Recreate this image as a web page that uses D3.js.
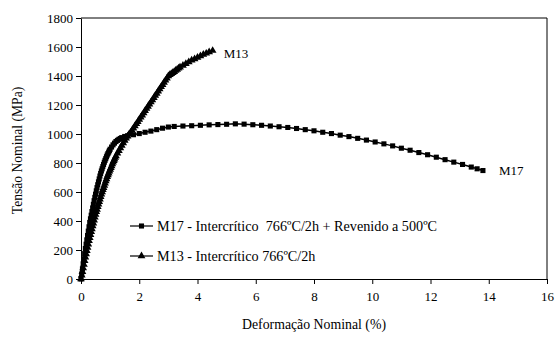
<!DOCTYPE html>
<html>
<head>
<meta charset="utf-8">
<script src="https://cdn.jsdelivr.net/npm/d3@7"></script>
<style>
  body { margin: 0; background: #fff; }
</style>
</head>
<body>
<div id="chart"></div>
<script>
// Data
var m17Strain = [0, 0.025, 0.05, 0.075, 0.1, 0.125, 0.15, 0.175, 0.2, 0.225, 0.25, 0.275, 0.3, 0.325, 0.35, 0.375, 0.4, 0.425, 0.45, 0.475,
  0.5, 0.525, 0.55, 0.575, 0.6, 0.625, 0.65, 0.675, 0.7, 0.725, 0.75, 0.775, 0.8, 0.825, 0.85, 0.875, 0.9, 0.925, 0.95, 0.975,
  1.0, 1.05, 1.1, 1.15, 1.2, 1.25, 1.3, 1.35, 1.4, 1.5, 1.6, 1.8, 2.0, 2.2, 2.4, 2.6, 2.8, 3.0, 3.2, 3.5, 3.8, 4.1, 4.4, 4.7,
  5.0, 5.3, 5.6, 5.9, 6.2, 6.5, 6.8, 7.1, 7.4, 7.7, 8.0, 8.3, 8.6, 8.9, 9.2, 9.5, 9.8, 10.1, 10.4, 10.7, 11.0, 11.3, 11.6,
  11.9, 12.2, 12.5, 12.8, 13.1, 13.4, 13.6, 13.8];
var m17Stress = [0, 35, 70, 105, 140, 175, 210, 240, 270, 300, 330, 360, 390, 415, 440, 465, 490, 515, 540, 563,
  585, 608, 630, 650, 670, 690, 710, 728, 745, 760, 775, 790, 805, 818, 830, 843, 855, 865, 875, 885,
  895, 910, 925, 937, 948, 956, 963, 969, 975, 983, 988, 995, 1003, 1012, 1020, 1030, 1040, 1048, 1052, 1055, 1057, 1060, 1063, 1065,
  1067, 1070, 1068, 1064, 1060, 1055, 1050, 1045, 1038, 1030, 1022, 1012, 1003, 992, 982, 970, 958, 945, 932, 918, 902, 888, 872,
  857, 840, 823, 806, 790, 772, 760, 748];

var m13Strain = [0, 0.025, 0.05, 0.075, 0.1, 0.125, 0.15, 0.175, 0.2, 0.225, 0.25, 0.275, 0.3, 0.325, 0.35, 0.375, 0.4, 0.425, 0.45, 0.475,
  0.5, 0.525, 0.55, 0.575, 0.6, 0.625, 0.65, 0.675, 0.7, 0.725, 0.75, 0.775, 0.8, 0.825, 0.85, 0.875, 0.9, 0.925, 0.95, 0.975,
  1.0, 1.025, 1.05, 1.075, 1.1, 1.125, 1.15, 1.175, 1.2, 1.25, 1.3, 1.35, 1.4, 1.45, 1.5, 1.55, 1.6, 1.65, 1.7, 1.75, 1.8, 1.85,
  1.9, 1.95, 2.0, 2.05, 2.1, 2.15, 2.2, 2.25, 2.3, 2.35, 2.4, 2.45, 2.5, 2.55, 2.6, 2.65, 2.7, 2.75, 2.8, 2.85, 2.9, 2.95,
  3.0, 3.05, 3.1, 3.15, 3.2, 3.25, 3.3, 3.35, 3.4, 3.5, 3.6, 3.7, 3.8, 3.9, 4.0, 4.1, 4.2, 4.3, 4.4, 4.52];
var m13Stress = [0, 25, 50, 75, 100, 125, 150, 173, 195, 218, 240, 263, 285, 305, 325, 345, 365, 385, 405, 425,
  445, 463, 480, 498, 515, 533, 550, 568, 585, 600, 615, 630, 645, 660, 675, 690, 705, 718, 730, 743,
  755, 768, 780, 793, 805, 815, 825, 837, 848, 867, 885, 903, 920, 938, 955, 970, 985, 998, 1010, 1025, 1040, 1055,
  1070, 1085, 1100, 1115, 1130, 1145, 1160, 1175, 1190, 1205, 1220, 1235, 1250, 1265, 1280, 1295, 1310, 1325, 1340, 1355, 1370, 1385,
  1400, 1408, 1415, 1423, 1430, 1438, 1445, 1453, 1460, 1472, 1485, 1497, 1508, 1518, 1528, 1538, 1548, 1556, 1565, 1575];

var xTicks = [0, 2, 4, 6, 8, 10, 12, 14, 16];
var yTicks = [0, 200, 400, 600, 800, 1000, 1200, 1400, 1600, 1800];
var legendLabels = ["M17 - Intercrítico  766ºC/2h + Revenido a 500ºC", "M13 - Intercrítico 766ºC/2h"];

var FONT = "Liberation Serif";

// SVG Dimensions
var svgWidth = 556;
var svgHeight = 338;
var margin = { top: 18, right: 9, bottom: 59, left: 81 };
var width = svgWidth - margin.left - margin.right;
var height = svgHeight - margin.top - margin.bottom;

var svg = d3.select("#chart")
  .append("svg")
  .attr("width", svgWidth)
  .attr("height", svgHeight);

var chartGroup = svg.append("g")
  .attr("transform", `translate(${margin.left}, ${margin.top})`);

var x = d3.scaleLinear().domain([0, 16]).range([0, width]);
var y = d3.scaleLinear().domain([0, 1800]).range([height, 0]);

// frame (top + right)
chartGroup.append("path")
  .attr("d", `M0,0H${width}V${height}`)
  .attr("fill", "none")
  .attr("stroke", "#000");

// Axes
var xAxis = chartGroup.append("g")
  .attr("transform", `translate(0, ${height})`)
  .call(d3.axisBottom(x).tickValues(xTicks).tickFormat(d3.format("d")).tickSize(5).tickSizeOuter(0));
var yAxis = chartGroup.append("g")
  .call(d3.axisLeft(y).tickValues(yTicks).tickFormat(d3.format("d")).tickSize(5).tickSizeOuter(0));

[xAxis, yAxis].forEach(function(ax) {
  ax.selectAll("path, line").attr("stroke", "#000");
  ax.selectAll("text")
    .style("font-family", FONT)
    .style("font-size", "13px")
    .attr("fill", "#000");
});
xAxis.selectAll("text").attr("dy", "1.1em");
yAxis.selectAll("text").attr("x", -8);

// Series
var m17 = m17Strain.map((s, i) => ({ x: s, y: m17Stress[i] }));
var m13 = m13Strain.map((s, i) => ({ x: s, y: m13Stress[i] }));

var line = d3.line().x(d => x(d.x)).y(d => y(d.y));
var square = d3.symbol().type(d3.symbolSquare).size(26);
var triangle = d3.symbol().type(d3.symbolTriangle).size(26);

function drawSeries(data, sym) {
  var g = chartGroup.append("g");
  g.append("path")
    .datum(data)
    .attr("d", line)
    .attr("fill", "none")
    .attr("stroke", "#000")
    .attr("stroke-width", 1.5);
  g.selectAll("path.mk")
    .data(data)
    .enter()
    .append("path")
    .attr("class", "mk")
    .attr("d", sym)
    .attr("transform", d => `translate(${x(d.x)}, ${y(d.y)})`)
    .attr("fill", "#000");
}
drawSeries(m17, square);
drawSeries(m13, triangle);

// End labels
chartGroup.append("text")
  .attr("x", x(4.52) + 11)
  .attr("y", y(1575) + 7)
  .style("font-family", FONT)
  .style("font-size", "13px")
  .text("M13");
chartGroup.append("text")
  .attr("x", x(13.8) + 16)
  .attr("y", y(748) + 4)
  .style("font-family", FONT)
  .style("font-size", "13px")
  .text("M17");

// Legend
var legend = svg.append("g").attr("transform", "translate(130, 226)");
var syms = [square, triangle];
legendLabels.forEach(function(lbl, i) {
  var row = legend.append("g").attr("transform", `translate(0, ${i * 30})`);
  row.append("line")
    .attr("x1", 0).attr("x2", 23)
    .attr("stroke", "#000").attr("stroke-width", 1.2);
  row.append("path")
    .attr("d", syms[i]())
    .attr("transform", "translate(11.5, 0)")
    .attr("fill", "#000");
  row.append("text")
    .attr("x", 27)
    .attr("dy", "0.35em")
    .style("font-family", FONT)
    .style("font-size", "14.2px")
    .style("white-space", "pre")
    .text(lbl);
});

// Axis titles
svg.append("text")
  .attr("transform", `translate(22, ${margin.top + height / 2 + 2}) rotate(-90)`)
  .attr("text-anchor", "middle")
  .style("font-family", FONT)
  .style("font-size", "13.6px")
  .text("Tensão Nominal (MPa)");

svg.append("text")
  .attr("x", 314)
  .attr("y", 329)
  .attr("text-anchor", "middle")
  .style("font-family", FONT)
  .style("font-size", "13.8px")
  .text("Deformação Nominal (%)");
</script>
</body>
</html>
